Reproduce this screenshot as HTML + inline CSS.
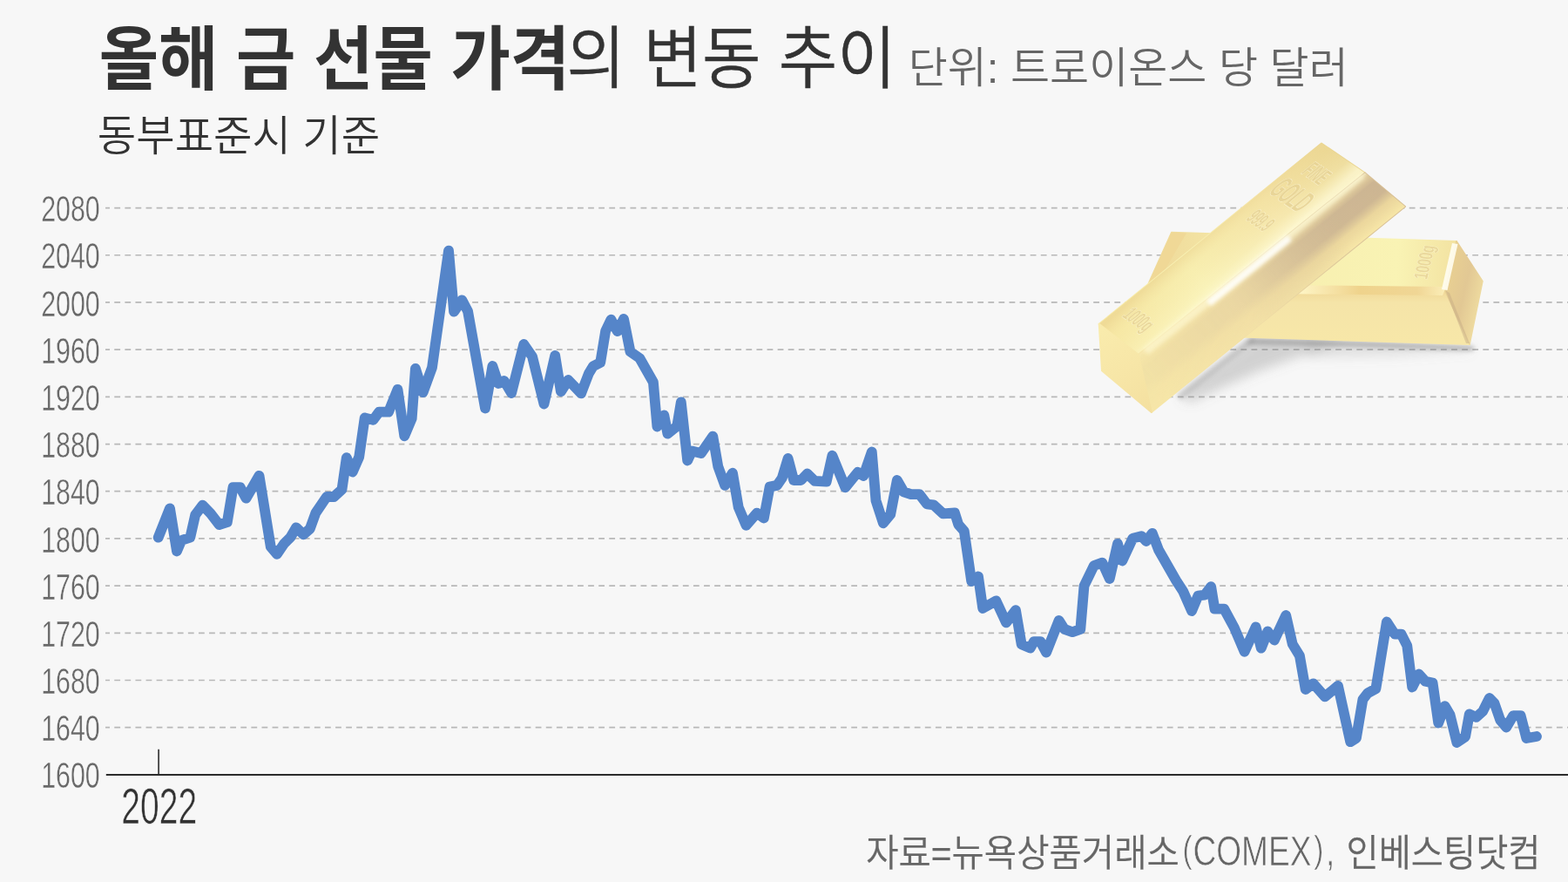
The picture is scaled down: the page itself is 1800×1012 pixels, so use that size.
<!DOCTYPE html>
<html lang="ko">
<head>
<meta charset="utf-8">
<title>올해 금 선물 가격의 변동 추이</title>
<style>
  html, body { margin: 0; padding: 0; }
  body { width: 1800px; height: 1012px; overflow: hidden; background: #f7f7f7;
         font-family: "Liberation Sans", "Noto Sans CJK KR", sans-serif; }
  #chart { position: absolute; left: 0; top: 0; width: 1800px; height: 1012px; display: block; }
  .ko { font-family: "Liberation Sans", "Noto Sans CJK KR", sans-serif; }
  .num { font-family: "Liberation Sans", sans-serif; }
</style>
</head>
<body>
<svg id="chart" width="1800" height="1012" viewBox="0 0 1800 1012">
  <defs>
    
    <filter id="gShadow" x="-20%" y="-40%" width="140%" height="200%"><feGaussianBlur stdDeviation="6.5"/></filter>
    <filter id="gContact" x="-10%" y="-100%" width="120%" height="300%"><feGaussianBlur stdDeviation="2.6"/></filter>
    <filter id="gSoft" x="-10%" y="-10%" width="120%" height="120%"><feGaussianBlur stdDeviation="2.2"/></filter>
    <filter id="gEdge" x="-5%" y="-5%" width="110%" height="110%"><feGaussianBlur stdDeviation="0.5"/></filter>
    <linearGradient id="uA" gradientUnits="userSpaceOnUse" x1="1285" y1="390" x2="1540" y2="182">
      <stop offset="0" stop-color="#f7e9a6"/><stop offset="0.35" stop-color="#f8f0b2"/>
      <stop offset="0.7" stop-color="#f4e3a6"/><stop offset="1" stop-color="#ead591"/>
    </linearGradient>
    <linearGradient id="uAx" gradientUnits="userSpaceOnUse" x1="1400" y1="255" x2="1440" y2="300">
      <stop offset="0" stop-color="#e9cf8a" stop-opacity="0.55"/><stop offset="0.3" stop-color="#f3e09c" stop-opacity="0.15"/>
      <stop offset="0.75" stop-color="#fffbd0" stop-opacity="0.25"/><stop offset="1" stop-color="#fffbd8" stop-opacity="0.75"/>
    </linearGradient>
    <linearGradient id="uB" gradientUnits="userSpaceOnUse" x1="1315" y1="440" x2="1590" y2="218">
      <stop offset="0" stop-color="#f6e6a8"/><stop offset="0.4" stop-color="#f2dfa6"/>
      <stop offset="0.7" stop-color="#e0cb9c"/><stop offset="1" stop-color="#d8c096"/>
    </linearGradient>
    <linearGradient id="uBx" gradientUnits="userSpaceOnUse" x1="1440" y1="300.2" x2="1477.8" y2="346.8">
      <stop offset="0" stop-color="#fffbd8" stop-opacity="0.85"/><stop offset="0.1" stop-color="#e6d3a0" stop-opacity="0.35"/>
      <stop offset="0.25" stop-color="#c4ad90" stop-opacity="0.6"/><stop offset="0.52" stop-color="#c6af90" stop-opacity="0.6"/>
      <stop offset="0.72" stop-color="#f0dc9e" stop-opacity="0.75"/><stop offset="1" stop-color="#f8e8a8" stop-opacity="0.95"/>
    </linearGradient>
    <linearGradient id="uBm" gradientUnits="userSpaceOnUse" x1="1315" y1="440" x2="1590" y2="218">
      <stop offset="0" stop-color="#fff" stop-opacity="0.12"/><stop offset="0.45" stop-color="#fff" stop-opacity="0.3"/>
      <stop offset="0.8" stop-color="#fff" stop-opacity="1"/><stop offset="1" stop-color="#fff" stop-opacity="1"/>
    </linearGradient>
    <mask id="uBmask" maskUnits="userSpaceOnUse" x="1250" y="150" width="400" height="350"><rect x="1250" y="150" width="400" height="350" fill="url(#uBm)"/></mask>
    <linearGradient id="uE" gradientUnits="userSpaceOnUse" x1="1262" y1="380" x2="1322" y2="470">
      <stop offset="0" stop-color="#f9ebac"/><stop offset="0.5" stop-color="#f7e6a7"/><stop offset="1" stop-color="#f4e0a0"/>
    </linearGradient>
    <linearGradient id="lT" gradientUnits="userSpaceOnUse" x1="1340" y1="300" x2="1670" y2="305">
      <stop offset="0" stop-color="#f0dc9c"/><stop offset="0.35" stop-color="#f7eeae"/>
      <stop offset="0.8" stop-color="#f9f3b4"/><stop offset="1" stop-color="#f3e3a2"/>
    </linearGradient>
    <linearGradient id="lF" gradientUnits="userSpaceOnUse" x1="1500" y1="332" x2="1500" y2="392">
      <stop offset="0" stop-color="#f0d796"/><stop offset="0.25" stop-color="#f5e4a8"/><stop offset="1" stop-color="#f7e7a8"/>
    </linearGradient>
    <linearGradient id="lE" gradientUnits="userSpaceOnUse" x1="1660" y1="330" x2="1702" y2="340">
      <stop offset="0" stop-color="#e8cf92"/><stop offset="0.5" stop-color="#e2c894"/><stop offset="1" stop-color="#efdca0"/>
    </linearGradient>
    <linearGradient id="lR" gradientUnits="userSpaceOnUse" x1="1440" y1="332" x2="1660" y2="334">
      <stop offset="0" stop-color="#f5dc98"/><stop offset="0.25" stop-color="#fdf3c2"/><stop offset="0.55" stop-color="#efd38c"/>
      <stop offset="0.85" stop-color="#f0d695"/><stop offset="1" stop-color="#fbeeb8"/>
    </linearGradient>

  </defs>
  <rect x="0" y="0" width="1800" height="1012" fill="#f7f7f7"/>

  <!-- grid -->
  <g stroke="#b8b8b8" stroke-width="1.7" stroke-dasharray="6.8 5.285" stroke-dashoffset="1.8" fill="none">
      <line x1="121.0" y1="238.55" x2="1800" y2="238.55"/>
      <line x1="121.0" y1="292.75" x2="1800" y2="292.75"/>
      <line x1="121.0" y1="346.94" x2="1800" y2="346.94"/>
      <line x1="121.0" y1="401.13" x2="1800" y2="401.13"/>
      <line x1="121.0" y1="455.33" x2="1800" y2="455.33"/>
      <line x1="121.0" y1="509.53" x2="1800" y2="509.53"/>
      <line x1="121.0" y1="563.72" x2="1800" y2="563.72"/>
      <line x1="121.0" y1="617.91" x2="1800" y2="617.91"/>
      <line x1="121.0" y1="672.11" x2="1800" y2="672.11"/>
      <line x1="121.0" y1="726.31" x2="1800" y2="726.31"/>
      <line x1="121.0" y1="780.50" x2="1800" y2="780.50"/>
      <line x1="121.0" y1="834.69" x2="1800" y2="834.69"/>
  </g>

  <!-- gold bars -->
  
  <g id="gold">
    <!-- halo + shadow -->
    <g filter="url(#gShadow)">
      <polygon points="1354,454 1440,387 1545,390 1500,406 1445,426 1400,446 1366,462" fill="#7c7c7c" opacity="0.3"/>
      <polygon points="1500,392 1686,397 1690,402 1600,408 1500,410" fill="#8a8a8a" opacity="0.22"/>
    </g>
    <polygon points="1436,388 1560,391 1688,396.5 1694,399 1690,403 1560,398.5 1430,395" fill="#6f6f6f" opacity="0.4" filter="url(#gContact)"/>
    <polygon points="1350,454 1436,386 1442,391 1356,459" fill="#777777" opacity="0.26" filter="url(#gContact)"/>
    <!-- lower bar -->
    <g stroke-linejoin="round">
      <polygon points="1344.8,266.5 1672.0,276.7 1658.8,333.5 1420.0,330.5 1318.0,326.0" fill="url(#lT)" stroke="url(#lT)" stroke-width="1.5"/>
      <polygon points="1420.0,330.5 1658.8,333.5 1687.0,395.3 1400.0,386.0" fill="url(#lF)" stroke="url(#lF)" stroke-width="1.5"/>
      <polygon points="1672.0,276.7 1702.0,322.6 1687.0,395.3 1658.8,333.5" fill="url(#lE)" stroke="url(#lE)" stroke-width="1.5"/>
      <!-- left slanted end of lower bar -->
      <polygon points="1344.8,266.5 1362.0,267.5 1330.0,322.0 1318.0,326.0" fill="#efd796" opacity="0.9"/>
      <!-- ridge highlight -->
      <polygon points="1420.0,326.5 1660.0,329.0 1656.0,339.0 1420.0,336.5" fill="url(#lR)" filter="url(#gEdge)"/>
      <polygon points="1667.0,279.0 1673.5,280.0 1661.5,333.0 1655.0,332.0" fill="#fffdf0" opacity="0.92" filter="url(#gEdge)"/>
      <polygon points="1659.5,333.5 1664.0,336.0 1687.0,394.0 1683.0,394.0" fill="#c4aa84" opacity="0.45" filter="url(#gEdge)"/>
      <text class="num" transform="matrix(0.15 -0.62 1.0 0.12 1638 321)" font-size="22" font-weight="700" fill="#e6d295" fill-opacity="0.8" stroke="#fffbe2" stroke-opacity="0.75" stroke-width="0.8" paint-order="stroke">1000g</text>
    </g>
    <!-- upper bar -->
    <g stroke-linejoin="round">
      <polygon points="1517.0,164.5 1567.0,198.5 1306.8,406.9 1261.7,371.8" fill="url(#uA)" stroke="url(#uA)" stroke-width="2"/>
      <polygon points="1517.0,164.5 1567.0,198.5 1306.8,406.9 1261.7,371.8" fill="url(#uAx)"/>
      <polygon points="1567.0,198.5 1613.0,237.0 1321.8,472.9 1306.8,406.9" fill="url(#uB)" stroke="url(#uB)" stroke-width="2"/>
      <polygon points="1567.0,198.5 1613.0,237.0 1321.8,472.9 1306.8,406.9" fill="url(#uBx)" mask="url(#uBmask)"/>
      <polygon points="1261.7,371.8 1306.8,406.9 1321.8,472.9 1265.0,425.3" fill="url(#uE)" stroke="url(#uE)" stroke-width="2"/>
      <!-- bright specular streak along the ridge -->
      <polygon points="1312.0,400.0 1440.0,298.0 1562.0,199.0 1568.0,204.0 1446.0,305.0 1318.0,407.0" fill="#fffbd6" opacity="0.6" filter="url(#gSoft)"/>
      <polygon points="1385.0,345.0 1478.0,270.0 1483.0,276.0 1390.0,351.0" fill="#ffffff" opacity="0.85" filter="url(#gSoft)"/>
      <g class="num" font-weight="700" fill="#e6d295" fill-opacity="0.8" stroke="#fffbe2" stroke-opacity="0.75" stroke-width="0.8" paint-order="stroke" text-anchor="middle">
        <text transform="matrix(0.38 0.26 -0.99 0.81 1503.5 205.5)" font-size="24">FINE</text>
        <text transform="matrix(0.38 0.26 -0.99 0.81 1472.5 232.5)" font-size="32">GOLD</text>
        <text transform="matrix(0.38 0.26 -0.99 0.81 1440 259)" font-size="22">999.9</text>
      </g>
      <text class="num" transform="matrix(0.42 0.29 -0.93 0.75 1300.5 372)" font-size="22" font-weight="700" fill="#e6d295" fill-opacity="0.8" stroke="#fffbe2" stroke-opacity="0.75" stroke-width="0.8" paint-order="stroke" text-anchor="middle">1000g</text>
    </g>
  </g>


  <!-- axis -->
  <g stroke="#2b2b2b" fill="none">
    <line x1="121.8" y1="888.89" x2="1800" y2="888.89" stroke-width="2"/>
    <line x1="182.1" y1="859.8" x2="182.1" y2="888.89" stroke-width="1.6"/>
  </g>

  <!-- y labels -->
  <g class="num" font-size="42.3" fill="#686868" stroke="#f7f7f7" stroke-width="0.45">
      <text transform="translate(114.7 254.1) scale(0.718 1)" text-anchor="end">2080</text>
      <text transform="translate(114.7 308.3) scale(0.718 1)" text-anchor="end">2040</text>
      <text transform="translate(114.7 362.5) scale(0.718 1)" text-anchor="end">2000</text>
      <text transform="translate(114.7 416.7) scale(0.718 1)" text-anchor="end">1960</text>
      <text transform="translate(114.7 470.9) scale(0.718 1)" text-anchor="end">1920</text>
      <text transform="translate(114.7 525.1) scale(0.718 1)" text-anchor="end">1880</text>
      <text transform="translate(114.7 579.3) scale(0.718 1)" text-anchor="end">1840</text>
      <text transform="translate(114.7 633.5) scale(0.718 1)" text-anchor="end">1800</text>
      <text transform="translate(114.7 687.7) scale(0.718 1)" text-anchor="end">1760</text>
      <text transform="translate(114.7 741.9) scale(0.718 1)" text-anchor="end">1720</text>
      <text transform="translate(114.7 796.0) scale(0.718 1)" text-anchor="end">1680</text>
      <text transform="translate(114.7 850.2) scale(0.718 1)" text-anchor="end">1640</text>
      <text transform="translate(114.7 904.4) scale(0.718 1)" text-anchor="end">1600</text>
  </g>
  <text class="num" transform="translate(139.3 944.8) scale(0.685 1)" font-size="57" fill="#333" stroke="#f7f7f7" stroke-width="0.65">2022</text>

  <!-- price line -->
  <path d="M181.7 616.7 L195 583.3 L203 632.5 L208.3 620 L218.3 616.7 L224.2 590.8 L232.5 579.7 L241.7 589.2 L251.7 602 L260.8 599.2 L267.5 559.2 L275.8 559.2 L282.5 571.7 L297.5 545.8 L310.8 627.5 L318 635.8 L325.8 624.2 L333.3 616.7 L340 605.3 L348.3 613.3 L355.8 606.7 L362.5 588.3 L375 570 L383.3 570 L392.5 561.7 L397.8 525.2 L404.8 541.5 L412.2 524.3 L418.7 479.4 L428.4 481.9 L435.1 472.7 L446 472.7 L456.5 446.8 L464.3 500.3 L472.7 480.2 L476.9 422.9 L485.6 450.2 L496 421.8 L505.5 354.5 L515 287.6 L521.1 357.7 L530.3 344.3 L537 356.9 L557 468.5 L565.4 420 L572.1 440 L578.8 437 L587.1 451 L601.3 395 L611 409 L624.5 463.5 L637.2 408 L643.9 449.3 L652.3 436 L667.1 451.4 L675.9 428.5 L680.9 420.2 L689.2 416 L695.1 380.1 L701.4 366.7 L708.8 380.1 L716 365.9 L723.5 403.5 L734.3 411 L749.9 438.5 L754.4 489.5 L762.3 476.4 L766.4 497.7 L777.2 489 L781.8 461.4 L789.2 528.5 L794.2 517.6 L804.8 520.1 L818.3 500.6 L824.3 535.2 L832.2 556.9 L841 542.7 L847.7 582 L856.5 602.8 L868.9 588.6 L876.9 594.5 L883.6 558.6 L892 556.9 L897.8 548.5 L904.6 526 L911.2 551 L919.5 551 L926.7 543.5 L935.4 551.9 L948.7 552.7 L955.4 522.7 L970.4 559.4 L984.6 541.9 L991.3 546 L1000.8 518.5 L1005.5 574.4 L1013.9 600.3 L1022.2 590.3 L1029.8 551 L1037.4 564.3 L1045.8 567.2 L1055.5 567.2 L1064.2 578.5 L1071.8 579.3 L1082.6 589.3 L1096 588.5 L1100.2 601.8 L1106.8 609.4 L1115.2 667 L1123 661.5 L1128.2 698 L1143.4 689.3 L1155.1 714.4 L1166 700.2 L1172.7 739.4 L1182.7 743.6 L1186.9 736.1 L1194.4 736.1 L1201.1 748.6 L1215.6 711.9 L1221.9 721.9 L1231.1 725.2 L1240.3 721.9 L1244.5 672.3 L1255.8 649 L1265.4 645.6 L1273.8 664 L1283 623.8 L1288.3 643.5 L1300.4 617.6 L1310.3 615.1 L1315.8 621 L1322.8 611.8 L1330.2 631.3 L1350.1 666 L1358.2 678.5 L1368.1 701 L1375.4 683.5 L1383 682.6 L1390.2 673.2 L1394.4 698.6 L1405.2 698.6 L1416.9 720.3 L1428.6 747.8 L1441.6 719.4 L1447.8 743.7 L1455.3 724.5 L1462.9 734.5 L1476.2 706 L1483.7 739 L1491.9 752.3 L1498.7 791 L1507.6 784.3 L1520.9 799.4 L1536 786.9 L1543.5 821 L1550.2 851.2 L1556.9 847 L1564.4 802.7 L1570.2 795.2 L1579.4 790.2 L1591.9 713.5 L1601.1 727.6 L1608.6 727.6 L1615.3 740.9 L1621.2 788.5 L1628.7 773.5 L1636.2 781.8 L1644.6 783.5 L1651.2 829.5 L1658.7 810.2 L1664.6 820.3 L1672.4 852 L1682.1 845.3 L1686.8 819.4 L1694.7 822.8 L1702.2 816.1 L1709.7 801 L1715.5 806.9 L1722.2 826.1 L1729.2 834.5 L1737.2 821.1 L1745.6 821.1 L1752.3 847 L1764 845" fill="none" stroke="#5585c9" stroke-width="11.8" stroke-linejoin="round" stroke-linecap="round"/>

  <!-- titles -->
  <g class="ko" fill="#333">
    <text transform="translate(113.7 96) scale(0.935 1)" font-size="79.5" font-weight="700">올해 금 선물 가격</text>
    <text transform="translate(650.5 94.8) scale(0.941 1)" font-size="78" font-weight="350" stroke="#333" stroke-width="0.5">의 변동 추이</text>
    <text transform="translate(111.8 173.3) scale(0.994 1)" font-size="48.6" font-weight="350">동부표준시 기준</text>
  </g>
  <g class="ko" fill="#666">
    <text transform="translate(1042.7 94.6) scale(1.006 1)" font-size="48.7" font-weight="350">단위: 트로이온스 당 달러</text>
    <text transform="translate(994.2 993.6) scale(0.947 1)" font-size="42.86" font-weight="350" stroke="#666" stroke-width="0.25">자료=뉴욕상품거래소</text>
    <text transform="translate(1357.5 993.1) scale(0.785 1)" font-size="47.3" font-weight="400" stroke="#f7f7f7" stroke-width="0.7"><tspan font-size="42.5" dy="-4.5">(</tspan><tspan dy="4.5" dx="1">COMEX</tspan><tspan font-size="42.5" dy="-4.5" dx="3.5">)</tspan><tspan dy="4.5" dx="3.2">, </tspan></text>
    <text transform="translate(1545.5 993.6) scale(0.943 1)" font-size="42.86" font-weight="350" stroke="#666" stroke-width="0.25">인베스팅닷컴</text>
  </g>
</svg>
</body>
</html>
